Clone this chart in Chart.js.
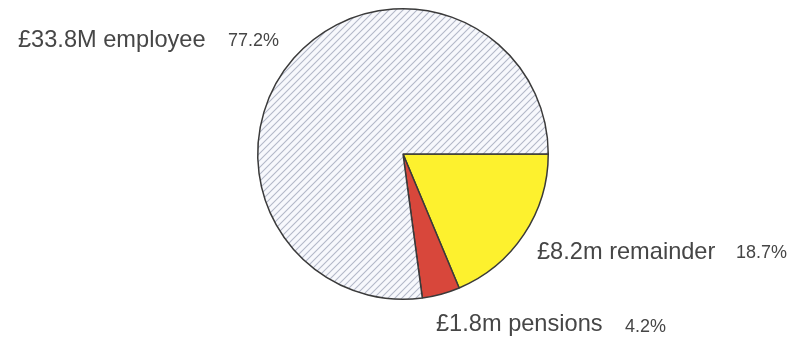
<!DOCTYPE html>
<html>
<head>
<meta charset="utf-8">
<script src="https://cdn.jsdelivr.net/npm/chart.js@4"></script>
<style>
  html, body { margin: 0; padding: 0; background: #fff; }
  #wrap { width: 800px; height: 340px; position: relative; }
</style>
</head>
<body>
<div id="wrap"><canvas id="myChart"></canvas></div>
<script>
// slices start at 3 o'clock and run clockwise
var categories = ['remainder', 'pensions', 'employee'];
var amounts = ['£8.2m', '£1.8m', '£33.8M'];
var shares = [18.7, 4.2, 77.2];
var shareLabels = ['18.7%', '4.2%', '77.2%'];

// diagonal hatch for the employee slice
function hatch() {
  var s = 7;
  var c = document.createElement('canvas');
  c.width = s; c.height = s;
  var g = c.getContext('2d');
  g.fillStyle = '#f7f8fc';
  g.fillRect(0, 0, s, s);
  g.strokeStyle = '#b3b8c8';
  g.lineWidth = 1.1;
  g.beginPath();
  g.moveTo(0, s); g.lineTo(s, 0);
  g.moveTo(-1, 1); g.lineTo(1, -1);
  g.moveTo(s - 1, s + 1); g.lineTo(s + 1, s - 1);
  g.stroke();
  return g.createPattern(c, 'repeat');
}

var ctx = document.getElementById('myChart').getContext('2d');

// label placement: [x, baseline y] of the amount text and of the share text
var labelPos = [
  [537, 259, 736, 258],
  [436, 331, 625, 332],
  [18, 47, 228, 46]
];

var sliceLabels = {
  id: 'sliceLabels',
  afterDraw: function(chart) {
    var c = chart.ctx;
    c.save();
    c.fillStyle = '#464646';
    c.textAlign = 'left';
    c.textBaseline = 'alphabetic';
    categories.forEach(function(name, i) {
      var p = labelPos[i];
      c.font = '23.6px "Liberation Sans", Arial, sans-serif';
      c.fillText(amounts[i] + ' ' + name, p[0], p[1]);
      c.font = '18px "Liberation Sans", Arial, sans-serif';
      c.fillText(shareLabels[i], p[2], p[3]);
    });
    c.restore();
  }
};

var myChart = new Chart(ctx, {
  type: 'pie',
  data: {
    labels: categories,
    datasets: [{
      data: shares,
      backgroundColor: ['#fdf12e', '#d8473b', hatch()],
      borderColor: '#3a3a3a',
      borderWidth: 1.5,
      borderAlign: 'center'
    }]
  },
  options: {
    responsive: true,
    maintainAspectRatio: false,
    animation: false,
    rotation: 90,
    layout: { padding: { top: 8, bottom: 40, left: 250, right: 244 } },
    plugins: {
      legend: { display: false },
      tooltip: { enabled: false }
    }
  },
  plugins: [sliceLabels]
});
</script>
</body>
</html>
